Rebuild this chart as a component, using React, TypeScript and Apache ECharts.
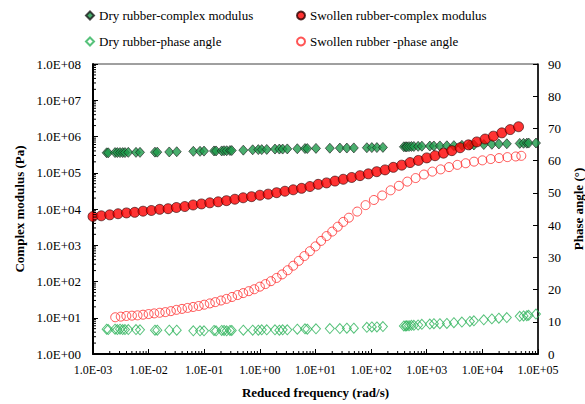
import React, { useEffect, useRef } from "react";
import * as echarts from "echarts";

// Dry rubber (shared frequencies for modulus and phase angle), rad/s
const dryFreq = [
  0.00176, 0.00188, 0.00249, 0.00274, 0.00306, 0.00342, 0.00376, 0.00431, 0.00593, 0.007,
  0.013, 0.0143, 0.0235, 0.032, 0.0636, 0.084, 0.099, 0.15, 0.163, 0.206,
  0.227, 0.253, 0.29, 0.312, 0.504, 0.743, 0.937, 1.08, 1.33, 1.87,
  2.24, 2.57, 3.11, 4.71, 6.48, 7.12, 10.2, 18.1, 27.4, 36.6,
  48.9, 83.8, 103, 127, 163, 388, 420, 439, 480, 530,
  587, 700, 817, 1137, 1343, 1722, 2300, 3075, 4285, 5960,
  7040, 10600, 14800, 19800, 27500, 47000, 55000, 63000, 68000, 92000,
];
const dryModulus = [
  355000, 355000, 360000, 360000, 360000, 360000, 360000, 365000, 365000, 365000,
  370000, 370000, 375000, 380000, 390000, 390000, 395000, 400000, 400000, 400000,
  405000, 405000, 410000, 410000, 420000, 430000, 435000, 435000, 440000, 450000,
  450000, 450000, 455000, 460000, 465000, 465000, 470000, 475000, 480000, 480000,
  485000, 490000, 495000, 495000, 500000, 520000, 520000, 520000, 525000, 530000,
  530000, 535000, 540000, 545000, 548000, 550000, 555000, 560000, 570000, 580000,
  585000, 600000, 610000, 620000, 630000, 645000, 650000, 655000, 660000, 660000,
];
const dryPhase = [
  7.7, 7.6, 7.7, 7.6, 7.7, 7.6, 7.6, 7.6, 7.6, 7.5,
  7.4, 7.4, 7.4, 7.4, 7.2, 7.2, 7.2, 7.3, 7.2, 7.3,
  7.3, 7.2, 7.3, 7.3, 7.4, 7.4, 7.4, 7.5, 7.5, 7.5,
  7.4, 7.5, 7.5, 7.7, 7.8, 7.7, 7.8, 7.9, 7.9, 8.0,
  8.0, 8.3, 8.4, 8.4, 8.5, 8.7, 8.7, 8.8, 8.8, 8.9,
  8.9, 9.0, 9.2, 9.3, 9.4, 9.4, 9.5, 9.7, 9.9, 10.1,
  10.3, 10.6, 10.9, 11.1, 11.3, 11.7, 11.8, 11.9, 12.0, 12.4,
];

// Swollen rubber complex modulus
const swFreqG = [
  0.001, 0.00141, 0.002, 0.00282, 0.004, 0.00562, 0.00794, 0.0112, 0.0158, 0.0224,
  0.0316, 0.0447, 0.0631, 0.0891, 0.126, 0.178, 0.251, 0.355, 0.501, 0.708,
  1.0, 1.41, 2.0, 2.82, 3.98, 5.62, 7.94, 11.2, 15.8, 22.4,
  31.6, 44.7, 63.1, 89.1, 126, 178, 251, 355, 501, 708,
  1000, 1410, 2000, 2820, 3980, 5620, 7940, 11200, 15800, 22400,
  31600, 44700,
];
const swModulus = [
  6200, 6500, 6900, 7400, 7800, 8100, 8700, 9100, 9800, 10200,
  11000, 11700, 12900, 13800, 14800, 15800, 17000, 18600, 20400, 21900,
  24000, 25700, 28200, 30900, 33900, 37200, 41700, 47900, 52500, 58900,
  66100, 74100, 83200, 93300, 107000, 120000, 141000, 162000, 191000, 219000,
  257000, 295000, 347000, 407000, 490000, 589000, 708000, 851000, 1020000, 1260000,
  1550000, 1860000,
];

// Swollen rubber phase angle
const swFreqP = [
  0.00251, 0.00316, 0.00398, 0.00501, 0.00631, 0.00794, 0.01, 0.0126, 0.0158, 0.02,
  0.0251, 0.0316, 0.0398, 0.0501, 0.0631, 0.0794, 0.1, 0.126, 0.158, 0.2,
  0.251, 0.316, 0.398, 0.501, 0.631, 0.794, 1.0, 1.26, 1.58, 2.0,
  2.51, 3.16, 3.98, 5.01, 6.31, 7.94, 10, 12.6, 15.8, 20,
  25.1, 31.6, 39.8, 56.2, 79.4, 112, 158, 224, 316, 447,
  631, 891, 1259, 1778, 2512, 3548, 5012, 7079, 10000, 14125,
  19953, 28184, 39811, 50119,
];
const swPhase = [
  11.4, 11.6, 11.8, 11.9, 12.0, 12.2, 12.4, 12.6, 12.8, 13.0,
  13.3, 13.7, 14.0, 14.3, 14.6, 14.9, 15.3, 15.7, 16.1, 16.6,
  17.1, 17.7, 18.3, 18.9, 19.5, 20.1, 20.9, 21.7, 22.6, 23.6,
  24.7, 26.0, 27.4, 28.9, 30.4, 31.9, 33.4, 35.1, 36.6, 38.0,
  39.5, 41.0, 42.3, 44.2, 46.2, 47.8, 49.2, 50.8, 52.2, 53.5,
  54.6, 55.7, 56.6, 57.3, 58.0, 58.7, 59.2, 59.7, 60.1, 60.5,
  60.8, 61.1, 61.3, 61.5,
];

const seriesNames = [
  "Dry rubber-complex modulus",
  "Swollen rubber-complex modulus",
  "Dry rubber-phase angle",
  "Swollen rubber -phase angle",
];

const xDecades = [-3, -2, -1, 0, 1, 2, 3, 4];
const yDecades = [0, 1, 2, 3, 4, 5, 6, 7];
const minorMultipliers = [2, 3, 4, 5, 6, 7, 8, 9];

const FONT = "Times New Roman, Liberation Serif, DejaVu Serif, serif";

const fmtE = (v: number) => {
  const e = Math.round(Math.log10(v));
  const s = e < 0 ? "-" : "+";
  const a = Math.abs(e);
  return `1.0E${s}${a < 10 ? "0" + a : a}`;
};

const zip = (a: number[], b: number[]) => a.map((v, i) => [v, b[i]]);

export default function App() {
  const ref = useRef<HTMLDivElement>(null);
  useEffect(() => {
    if (!ref.current) return;
    const chart = echarts.init(ref.current, null, { renderer: "svg" });

    const minorData: number[][] = [];
    xDecades.forEach((d) =>
      minorMultipliers.forEach((m) => minorData.push([m * Math.pow(10, d), 1, 0]))
    );
    yDecades.forEach((d) =>
      minorMultipliers.forEach((m) => minorData.push([0.001, m * Math.pow(10, d), 1]))
    );

    const labelText = { fontFamily: FONT, fontSize: 12, fontWeight: "normal", fontStyle: "normal", color: "#000" };

    const legendBase = {
      itemWidth: 8,
      itemHeight: 8,
      padding: 0,
      textStyle: { ...labelText, fontSize: 13 },
      selectedMode: false,
    };

    const option: any = {
      animation: false,
      backgroundColor: "#fff",
      textStyle: { fontFamily: FONT },
      legend: [
        { ...legendBase, data: [seriesNames[0]], left: 85, top: 9 },
        { ...legendBase, data: [seriesNames[1]], left: 296, top: 9 },
        { ...legendBase, data: [seriesNames[2]], left: 85, top: 35 },
        { ...legendBase, data: [seriesNames[3]], left: 296, top: 35 },
      ],
      grid: {
        left: 93,
        right: 47,
        top: 64,
        bottom: 50,
        show: true,
        borderColor: "#404040",
        borderWidth: 1,
        backgroundColor: "transparent",
        outerBoundsMode: "none",
      },
      xAxis: {
        type: "log",
        logBase: 10,
        min: 0.001,
        max: 100000,
        splitNumber: 8,
        name: "Reduced frequency (rad/s)",
        nameLocation: "middle",
        nameGap: 32,
        nameTextStyle: { fontFamily: FONT, fontSize: 13, fontWeight: "bold", color: "#000" },
        axisLine: { show: true, onZero: false, lineStyle: { color: "#000", width: 2 } },
        axisTick: { show: true, inside: true, length: 5, lineStyle: { color: "#000", width: 1 } },
        axisLabel: { ...labelText, margin: 10, formatter: fmtE },
        splitLine: { show: false },
      },
      yAxis: [
        {
          type: "log",
          logBase: 10,
          min: 1,
          max: 100000000,
          splitNumber: 8,
          position: "left",
          name: "Complex modulus (Pa)",
          nameLocation: "middle",
          nameRotate: 90,
          nameGap: 67,
          nameTextStyle: { fontFamily: FONT, fontSize: 13, fontWeight: "bold", color: "#000" },
          axisLine: { show: true, onZero: false, lineStyle: { color: "#000", width: 2 } },
          axisTick: { show: true, inside: true, length: 5, lineStyle: { color: "#000", width: 1 } },
          axisLabel: { ...labelText, fontSize: 13, margin: 12, formatter: fmtE },
          splitLine: { show: false },
        },
        {
          type: "value",
          min: 0,
          max: 90,
          interval: 10,
          position: "right",
          name: "Phase angle (°)",
          nameLocation: "middle",
          nameRotate: 90,
          nameGap: 33,
          nameTextStyle: { fontFamily: FONT, fontSize: 13, fontWeight: "bold", color: "#000" },
          axisLine: { show: true, onZero: false, lineStyle: { color: "#000", width: 1.5 } },
          axisTick: { show: true, inside: true, length: 5, lineStyle: { color: "#000", width: 1 } },
          axisLabel: { ...labelText, fontSize: 13, margin: 10 },
          splitLine: { show: false },
        },
      ],
      series: [
        {
          name: seriesNames[0],
          type: "scatter",
          yAxisIndex: 0,
          symbol: "diamond",
          symbolSize: [9, 10],
          itemStyle: { color: "#1d9a4a", borderColor: "#1a1a1a", borderWidth: 0.8 },
          data: zip(dryFreq, dryModulus),
          z: 2,
        },
        {
          name: seriesNames[1],
          type: "scatter",
          yAxisIndex: 0,
          symbol: "circle",
          symbolSize: 10,
          itemStyle: { color: "#ff0000", borderColor: "#2a0000", borderWidth: 0.8 },
          data: zip(swFreqG, swModulus),
          z: 3,
        },
        {
          name: seriesNames[2],
          type: "scatter",
          yAxisIndex: 1,
          symbol: "diamond",
          symbolSize: [9, 10],
          itemStyle: { color: "rgba(255,255,255,0)", borderColor: "#2db35a", borderWidth: 1 },
          data: zip(dryFreq, dryPhase),
          z: 2,
        },
        {
          name: seriesNames[3],
          type: "scatter",
          yAxisIndex: 1,
          symbol: "circle",
          symbolSize: 9,
          itemStyle: { color: "rgba(255,255,255,0)", borderColor: "#ff2a2a", borderWidth: 1 },
          data: zip(swFreqP, swPhase),
          z: 3,
        },
        {
          type: "custom",
          name: "minorTicks",
          xAxisIndex: 0,
          yAxisIndex: 0,
          silent: true,
          z: 5,
          data: minorData,
          renderItem: (params: any, api: any) => {
            const p = api.coord([api.value(0), api.value(1)]);
            const t = api.value(2);
            const shape =
              t === 0
                ? { x1: p[0], y1: p[1], x2: p[0], y2: p[1] - 3 }
                : { x1: p[0], y1: p[1], x2: p[0] + 3, y2: p[1] };
            return { type: "line", shape, style: { stroke: "#000", lineWidth: 1 } };
          },
        },
      ],
    };
    chart.setOption(option);
    return () => chart.dispose();
  }, []);
  return (
    <div
      ref={ref}
      style={{ position: "absolute", left: 0, top: 0, width: 585, height: 404 }}
    />
  );
}
